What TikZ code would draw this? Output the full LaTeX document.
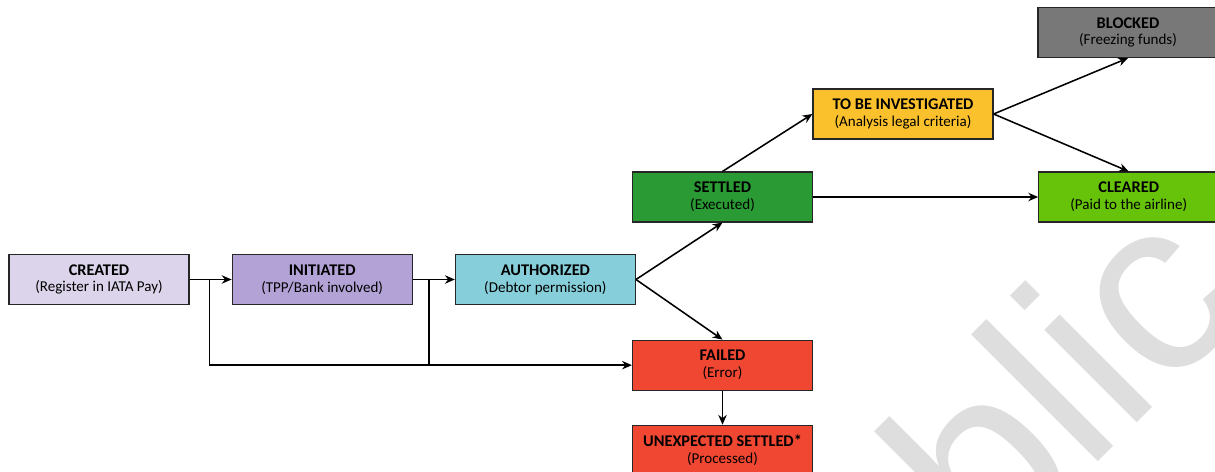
\documentclass[tikz,border=0pt]{standalone}
\usepackage{fontspec}
\setmainfont{Carlito}
\newfontfamily\wmfont{Liberation Sans}
\usetikzlibrary{arrows.meta, positioning}

\definecolor{created}{RGB}{220,212,234}
\definecolor{initiated}{RGB}{179,162,214}
\definecolor{authorized}{RGB}{134,206,218}
\definecolor{settled}{RGB}{42,154,52}
\definecolor{investigated}{RGB}{251,193,45}
\definecolor{blocked}{RGB}{120,120,120}
\definecolor{cleared}{RGB}{102,195,10}
\definecolor{failed}{RGB}{240,71,51}
\definecolor{wmgray}{RGB}{222,222,222}

\newcommand{\statetext}[2]{{\fontsize{11.6}{13.5}\selectfont\bfseries #1}\\{\fontsize{10.7}{13.5}\selectfont #2}}

\begin{document}
\begin{tikzpicture}[
                x=0.025cm, y=-0.025cm,
                state/.style={draw=black!85, line width=0.8pt, rectangle, align=center, minimum width=4.5cm, minimum height=1.25cm, inner sep=0pt},
                arrow/.style={-{Stealth[length=7pt, width=6pt]}, line width=1.1pt}]

            \useasboundingbox (0,0) rectangle (1215,472);

            % watermark
            \begin{scope}
                \clip (0,0) rectangle (1215,472);
                \node[rotate=45, anchor=base west, inner sep=0pt, text=wmgray, font=\wmfont\fontsize{176}{176}\selectfont] (wm) at (775,785) {Public};
            \end{scope}

            % states
            \node[state, fill=created] (created) at (99,279.5) {\statetext{CREATED}{(Register in IATA Pay)}};
            \node[state, fill=initiated, right=1.05cm of created] (initiated) {\statetext{INITIATED}{(TPP/Bank involved)}};
            \node[state, fill=authorized, right=1.05cm of initiated] (authorized) {\statetext{AUTHORIZED}{(Debtor permission)}};
            \node[state, fill=settled] (settled) at (722.5,197) {\statetext{SETTLED}{(Executed)}};
            \node[state, fill=failed, below=2.925cm of settled] (failed) {\statetext{FAILED}{(Error)}};
            \node[state, fill=failed, below=0.85cm of failed] (unexpected) {\statetext{UNEXPECTED SETTLED*}{(Processed)}};
            \node[state, fill=investigated] (investigated) at (903,114) {\statetext{TO BE INVESTIGATED}{(Analysis legal criteria)}};
            \node[state, fill=blocked] (blocked) at (1128,32.5) {\statetext{BLOCKED}{(Freezing funds)}};
            \node[state, fill=cleared, right=5.625cm of settled] (cleared) {\statetext{CLEARED}{(Paid to the airline)}};

            % transitions
            \coordinate (j1) at ([xshift=0.5cm]created.east);
            \coordinate (j2) at ([xshift=0.4cm]initiated.east);
            \draw[arrow] (created) -- (initiated);
            \draw[arrow] (initiated) -- (authorized);
            \draw[arrow] (j1) |- (failed.west);
            \draw[line width=1.1pt] (j2) -- (j2 |- failed.west);
            \draw[arrow] (authorized.east) -- (settled.south);
            \draw[arrow] (authorized.east) -- (failed.north);
            \draw[arrow] (failed) -- (unexpected);
            \draw[arrow] (settled.north) -- (investigated.west);
            \draw[arrow] (settled) -- (cleared);
            \draw[arrow] (investigated.east) -- (blocked.south);
            \draw[arrow] (investigated.east) -- (cleared.north);

        \end{tikzpicture}
\end{document}
